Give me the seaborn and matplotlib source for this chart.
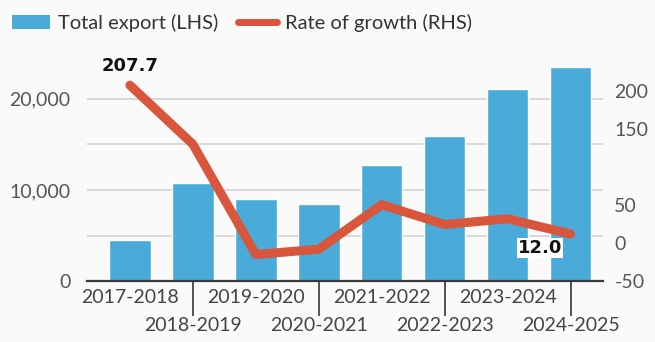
import numpy as np
import pandas as pd
import matplotlib
matplotlib.use("Agg")
import matplotlib.pyplot as plt
import seaborn as sns
from matplotlib.patches import Patch
from matplotlib.lines import Line2D

# ---- data ----
years = ["2017-2018", "2018-2019", "2019-2020", "2020-2021",
         "2021-2022", "2022-2023", "2023-2024", "2024-2025"]
total_export = [4550, 10770, 9010, 8460, 12710, 15900, 21070, 23450]
growth_rate = [207.7, 130.0, -15.0, -8.0, 50.5, 24.5, 32.0, 12.0]
left_ticks = [0, 5000, 10000, 15000, 20000]
left_tick_labels = ["0", "", "10,000", "", "20,000"]
right_ticks = [-50, 0, 50, 150, 200]
right_tick_labels = ["-50", "0", "50", "150", "200"]

BLUE = "#4aabd8"
RED = "#d9553b"
BG = "#fafafa"

sns.set_theme(style="white")
plt.rcParams['font.family'] = ['Lato', 'DejaVu Sans']

fig = plt.figure(figsize=(6.55, 3.42), dpi=100, facecolor=BG)
ax = fig.add_axes([0.133, 0.178, 0.788, 0.647])
ax.set_facecolor(BG)

df = pd.DataFrame({"year": years, "export": total_export})
sns.barplot(data=df, x="year", y="export", color=BLUE, saturation=1,
            width=0.66, ax=ax, zorder=2)
ax.set_xlim(-0.68, 7.52)
ax.set_ylim(0, 24250)
ax.set_xlabel("")
ax.set_ylabel("")
ax.set_yticks(left_ticks)
ax.set_yticklabels(left_tick_labels)
ax.yaxis.grid(True, color="#d6d6d6", lw=1.3)
ax.set_axisbelow(True)
for s in ["left", "right", "top"]:
    ax.spines[s].set_visible(False)
ax.spines["bottom"].set_color("#3a3a3a")
ax.spines["bottom"].set_linewidth(1.6)
ax.spines["bottom"].set_zorder(3)
ax.tick_params(axis="y", length=0, pad=12, labelsize=14, labelcolor="#555555")

ax2 = ax.twinx()
sns.lineplot(x=np.arange(len(years)), y=growth_rate, ax=ax2, color=RED,
             lw=6.5, solid_capstyle="round", solid_joinstyle="round", zorder=4)
ax2.set_ylim(-50, 241)
ax2.set_yticks(right_ticks)
ax2.set_yticklabels(right_tick_labels)
ax2.set_ylabel("")
for s in ax2.spines.values():
    s.set_visible(False)
ax2.tick_params(axis="y", length=0, pad=8, labelsize=14, labelcolor="#555555")
ax2.grid(False)

ax2.annotate("207.7", xy=(0, growth_rate[0]), xytext=(0, 7),
             textcoords="offset points", ha="center", va="bottom",
             fontsize=13, fontweight="bold", family="DejaVu Sans", color="#111111")
ax2.annotate("12.0", xy=(7, growth_rate[-1]), xytext=(-22, -10),
             textcoords="offset points", ha="center", va="center",
             fontsize=13, fontweight="bold", family="DejaVu Sans", color="#111111",
             bbox=dict(boxstyle="square,pad=0.05", fc="white", ec="none"))

# x tick labels, staggered
ax.set_xticks(range(len(years)))
ax.set_xticklabels(years)
ax.tick_params(axis="x", length=0, labelsize=14, labelcolor="#444444")
for i, tick in enumerate(ax.xaxis.get_major_ticks()):
    if i % 2 == 0:
        tick.set_pad(6)
    else:
        tick.set_pad(26)
        tick.tick1line.set_markersize(25)
        tick.tick1line.set_markeredgewidth(1.1)
        tick.tick1line.set_color("#555555")
        tick.tick1line.set_visible(True)

handles = [Patch(facecolor=BLUE, edgecolor="none"),
           Line2D([0], [0], color=RED, lw=5, solid_capstyle="round")]
fig.legend(handles, ["Total export (LHS)", "Rate of growth (RHS)"],
           loc="upper left", bbox_to_anchor=(-0.01, 1.012), ncol=2, frameon=False,
           fontsize=14.5, handlelength=1.9, handleheight=0.75, handletextpad=0.4,
           columnspacing=1.0, labelcolor="#333333")

fig.savefig("out.png", dpi=100, facecolor=BG)
